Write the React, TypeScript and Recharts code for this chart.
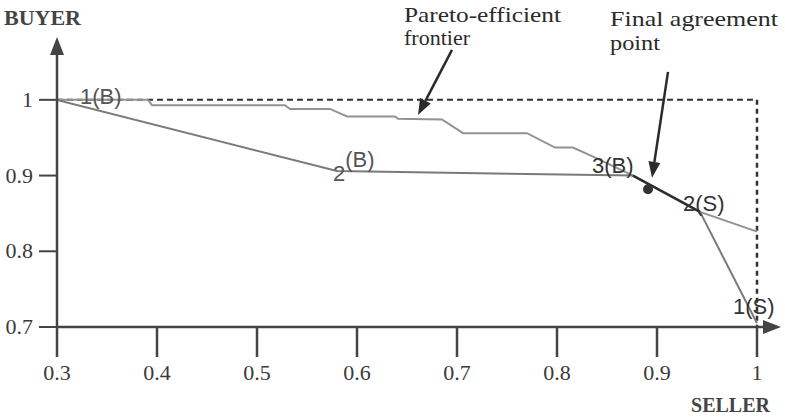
import React from "react";
import {
  LineChart,
  Line,
  XAxis,
  YAxis,
  ReferenceLine,
  ReferenceDot,
  LabelList,
} from "recharts";

// Axis extents (the arrows run a little past the last tick)
const X_MIN = 0.3;
const X_MAX = 1.024;
const Y_MIN = 0.7;
const Y_MAX = 1.083;

const xTicks = [0.3, 0.4, 0.5, 0.6, 0.7, 0.8, 0.9, 1];
const yTicks = [0.7, 0.8, 0.9, 1];

// Pareto-efficient frontier (seller utility, buyer utility)
const frontierSeller = [
  0.3, 0.391, 0.395, 0.528, 0.533, 0.573, 0.59, 0.638, 0.641, 0.685, 0.706,
  0.77, 0.798, 0.816, 0.836, 0.876, 0.943, 1.0,
];
const frontierBuyer = [
  1.0, 1.0, 0.993, 0.993, 0.988, 0.988, 0.978, 0.978, 0.975, 0.974, 0.956,
  0.956, 0.937, 0.937, 0.925, 0.9, 0.852, 0.826,
];

// Buyer's offers
const buyerNames = ["1(B)", "2(B)", "3(B)"];
const buyerSeller = [0.3, 0.58, 0.876];
const buyerBuyer = [1.0, 0.906, 0.9];

// Seller's offers
const sellerNames = ["1(S)", "2(S)"];
const sellerSeller = [1.0, 0.943];
const sellerBuyer = [0.705, 0.852];

// Final agreement
const agreementSeller = 0.891;
const agreementBuyer = 0.882;

const zip = (xs: number[], ys: number[], names?: string[]) =>
  xs.map((x, i) => ({ x, y: ys[i], name: names ? names[i] : "" }));

const frontier = zip(frontierSeller, frontierBuyer);
const buyerOffers = zip(buyerSeller, buyerBuyer, buyerNames);
const sellerOffers = zip(sellerSeller, sellerBuyer, sellerNames);
// last buyer offer -> last seller offer
const agreementZone = [
  buyerOffers[buyerOffers.length - 1],
  sellerOffers[sellerOffers.length - 1],
];

const SERIF = "'Liberation Serif', 'Times New Roman', serif";
const SANS = "'Liberation Sans', Arial, sans-serif";
const INK = "#2b2b2b";

// where each offer label sits relative to its point
const labelPos: Record<string, { dx: number; dy: number }> = {
  "1(B)": { dx: 23, dy: 4 },
  "3(B)": { dx: -41, dy: -3 },
  "2(S)": { dx: -17, dy: -1 },
  "1(S)": { dx: -24, dy: -9 },
};

function OfferLabel(props: any) {
  const { x, y, value } = props;
  if (value === "2(B)") {
    return (
      <text x={x - 4} y={y + 10} fill="#555" fontSize={22} fontFamily={SANS}>
        2<tspan dy={-14}>(B)</tspan>
      </text>
    );
  }
  const p = labelPos[value] || { dx: 0, dy: 0 };
  return (
    <text
      x={x + p.dx}
      y={y + p.dy}
      fill={value === "1(B)" ? "#555" : "#333"}
      fontSize={22}
      fontFamily={SANS}
    >
      {value}
    </text>
  );
}

function XTick(props: any) {
  const { x, y, payload } = props;
  return (
    <text x={x} y={y + 15} textAnchor="middle" fill="#3a3a3a" fontSize={22} fontFamily={SERIF}>
      {String(payload.value)}
    </text>
  );
}

function YTick(props: any) {
  const { x, y, payload } = props;
  return (
    <text x={x - 4} y={y + 7} textAnchor="end" fill="#3a3a3a" fontSize={22} fontFamily={SERIF}>
      {String(payload.value)}
    </text>
  );
}

function Arrow(props: any) {
  const { x1, y1, x2, y2, color = INK, width = 2.5, head = 16, half = 6 } =
    props;
  const dx = x2 - x1;
  const dy = y2 - y1;
  const len = Math.sqrt(dx * dx + dy * dy) || 1;
  const ux = dx / len;
  const uy = dy / len;
  const bx = x2 - ux * head;
  const by = y2 - uy * head;
  const pts = `${x2},${y2} ${bx - uy * half},${by + ux * half} ${bx + uy * half},${by - ux * half}`;
  return (
    <g>
      <line x1={x1} y1={y1} x2={bx} y2={by} stroke={color} strokeWidth={width} />
      <polygon points={pts} fill={color} />
    </g>
  );
}

function noteText(lines: string[], widths: number[], gap: number) {
  return (props: any) => (
    <g>
      {lines.map((l, i) => (
        <text
          key={l}
          x={props.cx}
          y={props.cy + i * gap}
          fill={INK}
          fontSize={21}
          fontFamily={SERIF}
          textLength={widths[i]}
          lengthAdjust="spacingAndGlyphs"
        >
          {l}
        </text>
      ))}
    </g>
  );
}

export default function App() {
  return (
    <div style={{ position: "absolute", left: 0, top: 0, background: "#fff" }}>
      <LineChart
        width={785}
        height={417}
        margin={{ top: 37, right: 4, bottom: 30, left: 0 }}
      >
        <XAxis
          type="number"
          dataKey="x"
          domain={[X_MIN, X_MAX]}
          ticks={xTicks}
          interval={0}
          allowDataOverflow
          axisLine={false}
          height={60}
          tickSize={30}
          tickMargin={8}
          tickLine={{ stroke: "#444", strokeWidth: 2.5 }}
          tick={<XTick />}
          label={{
            content: (p: any) => (
              <text
                x={p.viewBox.x + p.viewBox.width - 11}
                y={p.viewBox.y + 85}
                textAnchor="end"
                fill="#444"
                fontSize={20}
                fontWeight="bold"
                fontFamily={SERIF}
              >
                SELLER
              </text>
            ),
          }}
        />
        <YAxis
          type="number"
          dataKey="y"
          domain={[Y_MIN, Y_MAX]}
          ticks={yTicks}
          interval={0}
          allowDataOverflow
          axisLine={false}
          width={57}
          tickSize={18}
          tickMargin={2}
          tickLine={{ stroke: "#444", strokeWidth: 2 }}
          tick={<YTick />}
          label={{
            content: (p: any) => (
              <text
                x={p.viewBox.x + 4}
                y={p.viewBox.y - 12}
                fill="#444"
                fontSize={22}
                fontWeight="bold"
                fontFamily={SERIF}
              >
                BUYER
              </text>
            ),
          }}
        />

        {/* dashed utility bounds */}
        <ReferenceLine
          segment={[
            { x: 0.3, y: 1 },
            { x: 1, y: 1 },
          ]}
          stroke="#333"
          strokeWidth={2}
          strokeDasharray="6 4"
          ifOverflow="visible"
        />
        <ReferenceLine
          segment={[
            { x: 1, y: 1 },
            { x: 1, y: 0.7 },
          ]}
          stroke="#333"
          strokeWidth={2.5}
          strokeDasharray="5 4"
          ifOverflow="visible"
        />

        <Line
          data={frontier}
          dataKey="y"
          type="linear"
          stroke="#929292"
          strokeWidth={2}
          dot={false}
          isAnimationActive={false}
        />
        <Line
          data={buyerOffers}
          dataKey="y"
          type="linear"
          stroke="#7a7a7a"
          strokeWidth={2}
          dot={false}
          isAnimationActive={false}
        >
          <LabelList dataKey="name" content={OfferLabel} />
        </Line>
        <Line
          data={sellerOffers}
          dataKey="y"
          type="linear"
          stroke="#7a7a7a"
          strokeWidth={2}
          dot={false}
          isAnimationActive={false}
        >
          <LabelList dataKey="name" content={OfferLabel} />
        </Line>
        <Line
          data={agreementZone}
          dataKey="y"
          type="linear"
          stroke="#2e2e2e"
          strokeWidth={2.5}
          dot={false}
          isAnimationActive={false}
        />

        <ReferenceDot
          x={agreementSeller}
          y={agreementBuyer}
          r={5}
          fill="#333"
          stroke="none"
          ifOverflow="visible"
        />

        {/* axes with arrowheads */}
        <ReferenceLine
          segment={[
            { x: X_MIN, y: Y_MIN },
            { x: X_MIN, y: Y_MAX },
          ]}
          ifOverflow="visible"
          shape={(p: any) => <Arrow {...p} color="#444" width={2.5} head={18} half={7} />}
        />
        <ReferenceLine
          segment={[
            { x: X_MIN, y: Y_MIN },
            { x: X_MAX, y: Y_MIN },
          ]}
          ifOverflow="visible"
          shape={(p: any) => <Arrow {...p} color="#444" width={2.5} head={18} half={7} />}
        />

        {/* annotations */}
        <ReferenceLine
          segment={[
            { x: 0.695, y: 1.066 },
            { x: 0.661, y: 0.98 },
          ]}
          ifOverflow="visible"
          shape={(p: any) => <Arrow {...p} />}
        />
        <ReferenceLine
          segment={[
            { x: 0.911, y: 1.037 },
            { x: 0.895, y: 0.897 },
          ]}
          ifOverflow="visible"
          shape={(p: any) => <Arrow {...p} />}
        />
        <ReferenceDot
          x={0.647}
          y={1.103}
          r={0}
          ifOverflow="visible"
          shape={noteText(["Pareto-efficient", "frontier"], [157, 66], 23)}
        />
        <ReferenceDot
          x={0.853}
          y={1.097}
          r={0}
          ifOverflow="visible"
          shape={noteText(["Final agreement", "point"], [168, 50], 24)}
        />
      </LineChart>
    </div>
  );
}
